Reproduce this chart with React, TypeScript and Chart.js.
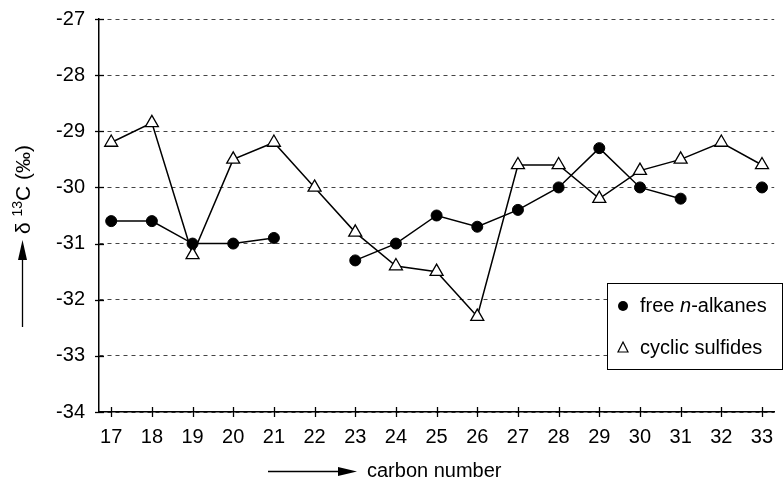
import React, { useEffect, useRef } from 'react';
import { Chart, registerables } from 'chart.js';

Chart.register(...registerables);

const carbonNumbers = [17, 18, 19, 20, 21, 22, 23, 24, 25, 26, 27, 28, 29, 30, 31, 32, 33];
const freeAlkanes = [-30.6, -30.6, -31.0, -31.0, -30.9, null, -31.3, -31.0, -30.5, -30.7, -30.4, -30.0, -29.3, -30.0, -30.2, null, -30.0];
const cyclicSulfides = [-29.2, -28.85, -31.2, -29.5, -29.2, -30.0, -30.8, -31.4, -31.5, -32.3, -29.6, -29.6, -30.2, -29.7, -29.5, -29.2, -29.6];
const yTickValues = [-34, -33, -32, -31, -30, -29, -28, -27];
const legendLabels = ['free ', 'n', '-alkanes', 'cyclic sulfides'];
const xTitle = 'carbon number';

const FONT = '"Liberation Sans", Arial, Helvetica, sans-serif';
const W = 783;
const H = 481;

const decorPlugin = {
  id: 'decor',
  afterDraw(chart: any) {
    const ctx: CanvasRenderingContext2D = chart.ctx;
    const xs = chart.scales.x;
    const ys = chart.scales.y;
    const area = chart.chartArea;
    ctx.save();
    ctx.strokeStyle = '#000';
    ctx.fillStyle = '#000';
    ctx.lineWidth = 1.3;
    ctx.setLineDash([]);
    // crossing tick marks
    carbonNumbers.forEach((c) => {
      const px = Math.round(xs.getPixelForValue(c)) + 0.5;
      ctx.beginPath();
      ctx.moveTo(px, area.bottom - 5);
      ctx.lineTo(px, area.bottom + 5);
      ctx.stroke();
    });
    yTickValues.forEach((v) => {
      const py = Math.round(ys.getPixelForValue(v)) + 0.5;
      ctx.beginPath();
      ctx.moveTo(area.left - 4, py);
      ctx.lineTo(area.left + 5, py);
      ctx.stroke();
    });

    // legend box
    const bx = 607.5, by = 283.5, bw = 175, bh = 86;
    ctx.fillStyle = '#fff';
    ctx.fillRect(bx, by, bw, bh);
    ctx.strokeStyle = '#000';
    ctx.lineWidth = 1;
    ctx.strokeRect(bx, by, bw, bh);
    ctx.fillStyle = '#000';
    // circle marker
    ctx.beginPath();
    ctx.arc(623, 306, 5, 0, Math.PI * 2);
    ctx.fill();
    ctx.textBaseline = 'middle';
    ctx.textAlign = 'left';
    let tx = 640;
    ctx.font = `20px ${FONT}`;
    ctx.fillText(legendLabels[0], tx, 306);
    tx += ctx.measureText(legendLabels[0]).width;
    ctx.font = `italic 20px ${FONT}`;
    ctx.fillText(legendLabels[1], tx, 306);
    tx += ctx.measureText(legendLabels[1]).width;
    ctx.font = `20px ${FONT}`;
    ctx.fillText(legendLabels[2], tx, 306);
    // triangle marker
    ctx.lineWidth = 1.2;
    ctx.beginPath();
    ctx.moveTo(623, 342);
    ctx.lineTo(628, 352);
    ctx.lineTo(618, 352);
    ctx.closePath();
    ctx.stroke();
    ctx.fillText(legendLabels[3], 640, 348);

    // x axis title with arrow
    const ay = 471.5;
    ctx.lineWidth = 1.3;
    ctx.beginPath();
    ctx.moveTo(268, ay);
    ctx.lineTo(342, ay);
    ctx.stroke();
    ctx.beginPath();
    ctx.moveTo(357, ay);
    ctx.lineTo(338, ay - 4.5);
    ctx.lineTo(338, ay + 4.5);
    ctx.closePath();
    ctx.fill();
    ctx.font = `20px ${FONT}`;
    ctx.fillText(xTitle, 367, ay);

    // y axis title with arrow
    const axx = 22.5;
    ctx.beginPath();
    ctx.moveTo(axx, 327);
    ctx.lineTo(axx, 258);
    ctx.stroke();
    ctx.beginPath();
    ctx.moveTo(axx, 240);
    ctx.lineTo(axx - 4.5, 260);
    ctx.lineTo(axx + 4.5, 260);
    ctx.closePath();
    ctx.fill();

    ctx.translate(24, 234);
    ctx.rotate(-Math.PI / 2);
    let p = 0;
    ctx.font = `21px ${FONT}`;
    ctx.fillText('δ ', p, 0);
    p += ctx.measureText('δ ').width;
    ctx.font = `14px ${FONT}`;
    ctx.fillText('13', p, -6);
    p += ctx.measureText('13').width;
    ctx.font = `21px ${FONT}`;
    ctx.fillText('C (‰)', p, 0);
    ctx.restore();
  },
};

export default function App() {
  const ref = useRef<HTMLCanvasElement | null>(null);
  useEffect(() => {
    if (!ref.current) return;
    const chart = new Chart(ref.current, {
      type: 'line',
      data: {
        datasets: [
          {
            label: 'free n-alkanes',
            data: carbonNumbers.map((c, i) => ({ x: c, y: freeAlkanes[i] })),
            borderColor: '#000',
            borderWidth: 1.5,
            pointStyle: 'circle',
            pointRadius: 5.5,
            pointBackgroundColor: '#000',
            pointBorderColor: '#000',
            pointBorderWidth: 1,
            spanGaps: false,
            tension: 0,
          },
          {
            label: 'cyclic sulfides',
            data: carbonNumbers.map((c, i) => ({ x: c, y: cyclicSulfides[i] })),
            borderColor: '#000',
            borderWidth: 1.5,
            pointStyle: 'triangle',
            pointRadius: 7.5,
            pointBackgroundColor: '#fff',
            pointBorderColor: '#000',
            pointBorderWidth: 1.3,
            spanGaps: false,
            tension: 0,
          },
        ],
      },
      options: {
        responsive: false,
        animation: false,
        layout: { padding: { top: 19, left: 0, right: 0, bottom: 0 } },
        plugins: { legend: { display: false }, tooltip: { enabled: false } },
        scales: {
          x: {
            type: 'linear',
            min: 16.7,
            max: 33.3,
            afterBuildTicks: (axis: any) => {
              axis.ticks = carbonNumbers.map((v) => ({ value: v }));
            },
            afterFit: (s: any) => {
              s.height = 69;
              s.paddingLeft = 0;
              s.paddingRight = 0;
            },
            ticks: {
              stepSize: 1,
              autoSkip: false,
              maxRotation: 0,
              padding: 13,
              color: '#000',
              font: { family: FONT, size: 20 },
            },
            grid: { display: false, drawTicks: false },
            border: { display: true, color: '#000', width: 1.5 },
          },
          y: {
            type: 'linear',
            min: -34,
            max: -27,
            afterBuildTicks: (axis: any) => {
              axis.ticks = yTickValues.map((v) => ({ value: v }));
            },
            afterFit: (s: any) => {
              s.width = 99;
              s.paddingTop = 0;
              s.paddingBottom = 0;
            },
            ticks: {
              stepSize: 1,
              padding: 14,
              color: '#000',
              font: { family: FONT, size: 20 },
            },
            grid: { display: true, drawTicks: false, color: '#444', lineWidth: 1 },
            border: { display: true, color: '#000', width: 1.5, dash: [4, 4] },
          },
        },
      },
      plugins: [decorPlugin],
    });
    return () => chart.destroy();
  }, []);
  return (
    <div style={{ position: 'absolute', left: 0, top: 0, width: W, height: H, background: '#fff' }}>
      <canvas ref={ref} width={W} height={H} />
    </div>
  );
}
